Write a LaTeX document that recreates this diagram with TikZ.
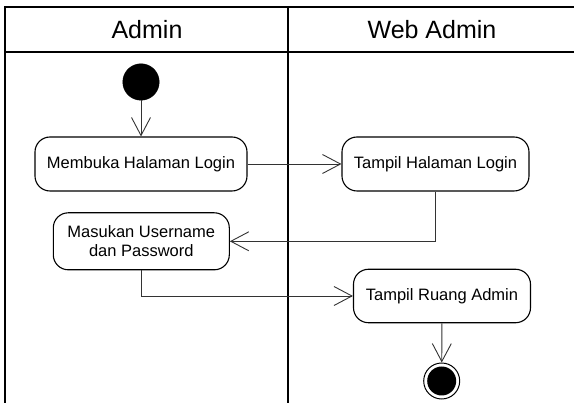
\documentclass[tikz,border=0pt]{standalone}
\usepackage{fontspec}
\setmainfont{Liberation Sans}
\usetikzlibrary{arrows.meta}
\tikzset{
  lane/.style={line width=1.3pt, draw=black},
  act/.style={draw=black, line width=1.1pt, rounded corners=15pt, fill=white,
    font=\fontsize{16.5}{19}\selectfont, align=center, inner sep=0pt},
  hdr/.style={font=\fontsize{25}{28}\selectfont, inner sep=0pt},
  conn/.style={draw=black!80, line width=0.9pt,
    -{Straight Barb[length=18pt,width=19pt,line width=0.9pt]}},
  initial/.style={circle, fill=black, draw=black, minimum size=36.5pt, inner sep=0pt},
  final/.style={circle, draw=black, line width=1pt, minimum size=36pt, inner sep=0pt,
    path picture={\fill[black] (path picture bounding box.center) circle (14.5pt);}}
}
\begin{document}
\begin{tikzpicture}[x=1pt,y=-1pt]
\useasboundingbox (0,0) rectangle (574,403);
% swimlanes
\draw[lane] (5,403) -- (5,7) -- (574,7);
\draw[lane] (5,52) -- (574,52);
\draw[lane] (288,7) -- (288,403);
\node[hdr] (h1) at (147,30) {Admin};
\node[hdr] (h2) at (432,30) {Web Admin};
% nodes
\node[initial] (start) at (141,82) {};
\node[act, minimum width=212pt, minimum height=54pt] (n1) at (141,164) {Membuka Halaman Login};
\node[act, minimum width=187pt, minimum height=54pt] (n2) at (435.5,164) {Tampil Halaman Login};
\node[act, minimum width=176pt, minimum height=57pt] (n3) at (141.3,241.3) {Masukan Username\\dan Password};
\node[act, minimum width=177pt, minimum height=53.5pt] (n4) at (442,296) {Tampil Ruang Admin};
\node[final] (end) at (441.7,381) {};
% connectors
\draw[conn] (start) -- (n1);
\draw[conn] (n1) -- (n2);
\draw[conn] (n2.south) |- (n3.east);
\draw[conn] (n3.south) |- (n4.west);
\draw[conn] (n4) -- (end);
\end{tikzpicture}
\end{document}
